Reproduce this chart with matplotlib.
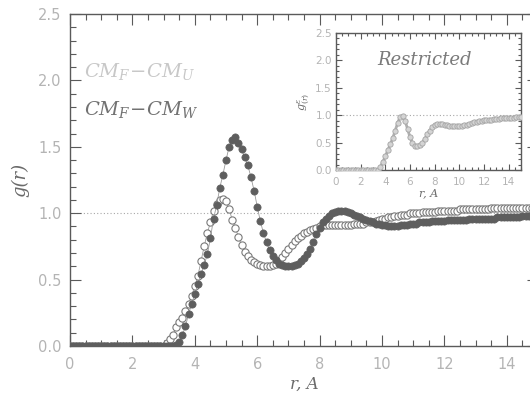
"""
Radial distribution functions g(r) of CM_F-CM_U and CM_F-CM_W,
with the restricted g(r) as an inset.
"""

import numpy as np
import matplotlib.pyplot as plt
from matplotlib.ticker import MultipleLocator, FormatStrFormatter

plt.rcParams['mathtext.fontset'] = 'dejavuserif'

# r grid, 0.1 A bins (main panel) and 0.2 A bins (inset)
r = np.round(np.arange(0, 15.001, 0.1), 1)
r_inset = np.round(np.arange(0, 15.001, 0.2), 1)

# CM_F - CM_U (open circles)
g_fu = [0.00, 0.00, 0.00, 0.00, 0.00, 0.00, 0.00, 0.00, 0.00, 0.00,
        0.00, 0.00, 0.00, 0.00, 0.00, 0.00, 0.00, 0.00, 0.00, 0.00,
        0.00, 0.00, 0.00, 0.00, 0.00, 0.00, 0.00, 0.00, 0.00, 0.00,
        0.00, 0.02, 0.05, 0.08, 0.14, 0.18, 0.21, 0.26, 0.32, 0.38,
        0.45, 0.53, 0.64, 0.75, 0.85, 0.93, 1.02, 1.07, 1.10, 1.11,
        1.09, 1.03, 0.95, 0.89, 0.82, 0.76, 0.71, 0.68, 0.65, 0.63,
        0.62, 0.61, 0.60, 0.60, 0.60, 0.61, 0.62, 0.64, 0.67, 0.70,
        0.73, 0.76, 0.79, 0.81, 0.83, 0.85, 0.86, 0.87, 0.88, 0.89,
        0.90, 0.91, 0.91, 0.91, 0.91, 0.91, 0.91, 0.91, 0.91, 0.91,
        0.91, 0.92, 0.92, 0.92, 0.92, 0.93, 0.93, 0.93, 0.94, 0.95,
        0.96, 0.96, 0.97, 0.97, 0.98, 0.98, 0.99, 0.99, 0.99, 1.00,
        1.00, 1.00, 1.00, 1.01, 1.01, 1.01, 1.01, 1.01, 1.02, 1.02,
        1.02, 1.02, 1.02, 1.02, 1.02, 1.03, 1.03, 1.03, 1.03, 1.03,
        1.03, 1.03, 1.03, 1.03, 1.03, 1.04, 1.04, 1.04, 1.04, 1.04,
        1.04, 1.04, 1.04, 1.04, 1.04, 1.04, 1.04, 1.04, 1.04, 1.04,
        1.04]

# CM_F - CM_W (filled circles)
g_fw = [0.00, 0.00, 0.00, 0.00, 0.00, 0.00, 0.00, 0.00, 0.00, 0.00,
        0.00, 0.00, 0.00, 0.00, 0.00, 0.00, 0.00, 0.00, 0.00, 0.00,
        0.00, 0.00, 0.00, 0.00, 0.00, 0.00, 0.00, 0.00, 0.00, 0.00,
        0.00, 0.00, 0.00, 0.00, 0.01, 0.03, 0.08, 0.15, 0.24, 0.32,
        0.39, 0.47, 0.54, 0.61, 0.69, 0.81, 0.96, 1.06, 1.19, 1.29,
        1.40, 1.50, 1.55, 1.57, 1.53, 1.48, 1.42, 1.36, 1.27, 1.17,
        1.05, 0.94, 0.85, 0.78, 0.72, 0.68, 0.65, 0.62, 0.61, 0.60,
        0.60, 0.60, 0.61, 0.62, 0.64, 0.66, 0.69, 0.73, 0.78, 0.84,
        0.89, 0.93, 0.96, 0.98, 1.00, 1.01, 1.02, 1.02, 1.02, 1.01,
        1.00, 0.99, 0.98, 0.97, 0.96, 0.95, 0.94, 0.93, 0.92, 0.92,
        0.91, 0.91, 0.90, 0.90, 0.90, 0.90, 0.91, 0.91, 0.91, 0.92,
        0.92, 0.92, 0.93, 0.93, 0.93, 0.93, 0.94, 0.94, 0.94, 0.94,
        0.94, 0.95, 0.95, 0.95, 0.95, 0.95, 0.95, 0.95, 0.96, 0.96,
        0.96, 0.96, 0.96, 0.96, 0.96, 0.96, 0.96, 0.97, 0.97, 0.97,
        0.97, 0.97, 0.97, 0.97, 0.97, 0.98, 0.98, 0.98, 0.98, 0.98,
        0.98]

# restricted g(r) for the inset
g_restr = [0.00, 0.00, 0.00, 0.00, 0.00, 0.00, 0.00, 0.00, 0.00, 0.00,
           0.00, 0.00, 0.00, 0.00, 0.00, 0.00, 0.00, 0.00, 0.06, 0.15,
           0.25, 0.36, 0.47, 0.58, 0.72, 0.86, 0.97, 0.99, 0.90, 0.75,
           0.60, 0.49, 0.44, 0.43, 0.45, 0.50, 0.57, 0.65, 0.72, 0.78,
           0.82, 0.84, 0.84, 0.84, 0.83, 0.82, 0.81, 0.80, 0.80, 0.80,
           0.80, 0.81, 0.82, 0.83, 0.84, 0.85, 0.87, 0.88, 0.89, 0.90,
           0.91, 0.91, 0.92, 0.92, 0.93, 0.93, 0.93, 0.94, 0.94, 0.94,
           0.95, 0.95, 0.95, 0.96, 0.96, 0.96]

axis_col = '#5a5a5a'
tick_lab = '#b4b4b4'
serif_it = dict(family='DejaVu Serif', style='italic')


def style_axes(ax, xmaj, xmin, ymaj, ymin, size, majlen, minlen):
    ax.set_xlim(0, 15)
    ax.set_ylim(0, 2.5)
    ax.xaxis.set_major_locator(MultipleLocator(xmaj))
    ax.xaxis.set_minor_locator(MultipleLocator(xmin))
    ax.yaxis.set_major_locator(MultipleLocator(ymaj))
    ax.yaxis.set_minor_locator(MultipleLocator(ymin))
    ax.yaxis.set_major_formatter(FormatStrFormatter('%.1f'))
    ax.tick_params(which='both', direction='in', top=True, right=True,
                   color=axis_col, labelcolor=tick_lab, labelsize=size)
    ax.tick_params(which='major', length=majlen, width=0.8)
    ax.tick_params(which='minor', length=minlen, width=0.8)
    for s in ax.spines.values():
        s.set_color(axis_col)
        s.set_linewidth(1.0)


fig = plt.figure(figsize=(5.30, 3.93), dpi=100)

# main panel (its right edge runs off the picture, as in the original)
ax = fig.add_axes([0.1321, 0.1196, 0.8830, 0.8448])
style_axes(ax, 2, 0.5, 0.5, 0.1, 10.5, 8, 4)
ax.tick_params(axis='x', pad=8)
ax.tick_params(axis='y', pad=6)
ax.axhline(1.0, color='#a8a8a8', lw=0.8, ls=(0, (1, 2)), zorder=1)

ax.plot(r, g_fu, '-', color='#9a9a9a', lw=0.6, zorder=2)
ax.plot(r, g_fu, 'o', ms=5.2, mfc='white', mec='#7a7a7a', mew=0.8, zorder=3)
ax.plot(r, g_fw, '-', color='#9a9a9a', lw=0.6, zorder=4)
ax.plot(r, g_fw, 'o', ms=5.2, mfc='#5e5e5e', mec='#5e5e5e', mew=0.5, zorder=5)

ax.set_xlabel('r, A', fontsize=12, color='#6a6a6a', labelpad=3, **serif_it)
ax.set_ylabel('g(r)', fontsize=13, color='#6a6a6a', labelpad=6, **serif_it)

ax.text(0.45, 2.07, r'$CM_F\!-\!CM_U$', fontsize=14, color='#c8c8c8',
        va='center', ha='left')
ax.text(0.45, 1.78, r'$CM_F\!-\!CM_W$', fontsize=14, color='#727272',
        va='center', ha='left')

# inset: restricted
ins = fig.add_axes([0.634, 0.5674, 0.349, 0.3486])
style_axes(ins, 2, 0.5, 0.5, 0.1, 7.5, 4, 2)
ins.tick_params(axis='x', pad=5)
ins.tick_params(axis='y', pad=3)
ins.axhline(1.0, color='#a8a8a8', lw=0.8, ls=(0, (1, 2)), zorder=1)
ins.plot(r_inset, g_restr, '-', color='#b0b0b0', lw=2.0, zorder=2)
ins.plot(r_inset, g_restr, 'o', ms=3.8, mfc='#d4d4d4', mec='#a4a4a4',
         mew=0.6, zorder=3)
ins.text(7.2, 2.0, 'Restricted', fontsize=13, color='#7a7a7a',
         ha='center', va='center', **serif_it)
ins.set_xlabel('r, A', fontsize=8, color='#6a6a6a', labelpad=1, **serif_it)
ins.set_ylabel(r'$g^{\varepsilon}_{(r)}$', fontsize=8, color='#6a6a6a',
               labelpad=2)

fig.savefig('out.png', dpi=100, facecolor='white')
